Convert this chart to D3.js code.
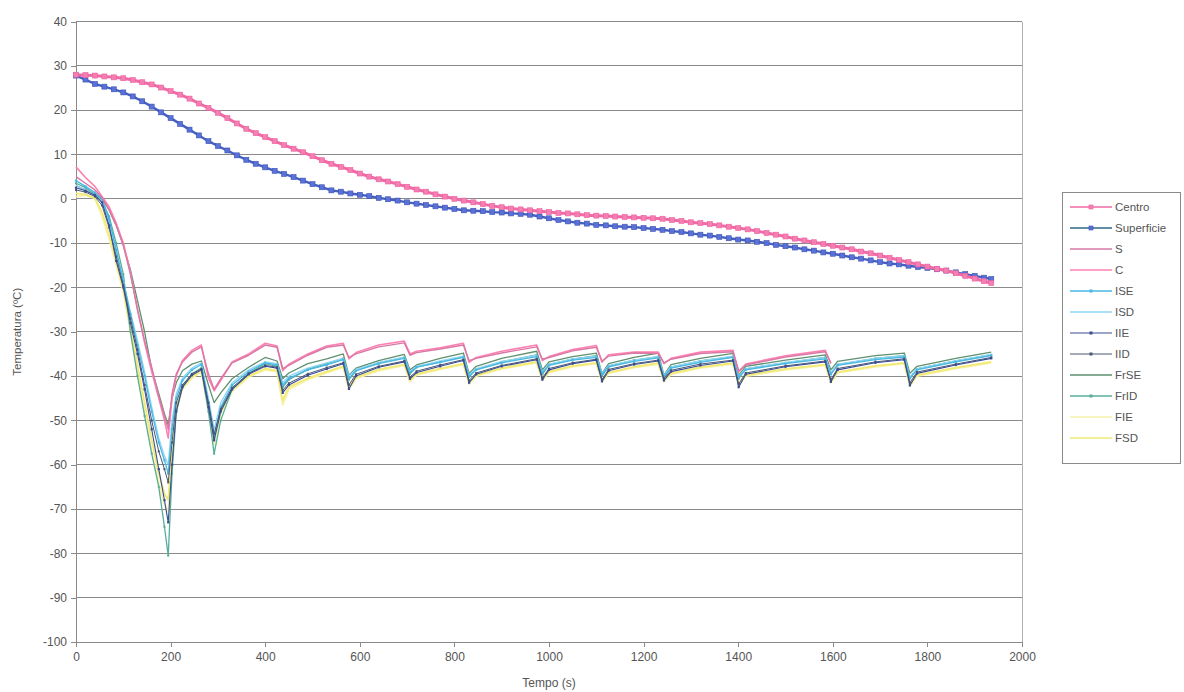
<!DOCTYPE html>
<html>
<head>
<meta charset="utf-8">
<script src="https://cdn.jsdelivr.net/npm/d3@7"></script>
<style>
  body { margin: 0; background: #fff; }
  text { font-family: "Liberation Sans", Arial, sans-serif; }
</style>
</head>
<body>
<svg id="chart" width="1184" height="692"></svg>
<script>
// ---- axis ticks ----
const xTicks = [0, 200, 400, 600, 800, 1000, 1200, 1400, 1600, 1800, 2000];
const yTicks = [40, 30, 20, 10, 0, -10, -20, -30, -40, -50, -60, -70, -80, -90, -100];

// ---- core sensors (Centro / Superficie), readings every 20 s, last at 1935 s ----
const timeTop = d3.range(0, 1921, 20).concat([1935]);
const centro = [
  28.0, 27.9, 27.8, 27.6, 27.4, 27.2, 26.8, 26.3, 25.8, 25.1,
  24.3, 23.5, 22.6, 21.5, 20.5, 19.4, 18.2, 17.0, 15.8, 14.8,
  13.9, 13.0, 12.1, 11.3, 10.5, 9.6, 8.7, 7.9, 7.2, 6.5,
  5.7, 5.0, 4.4, 3.9, 3.3, 2.7, 2.1, 1.6, 1.0, 0.5,
  0.0, -0.4, -0.8, -1.2, -1.6, -1.9, -2.2, -2.4, -2.6, -2.8,
  -3.0, -3.2, -3.3, -3.5, -3.7, -3.8, -3.9, -4.0, -4.1, -4.2,
  -4.3, -4.4, -4.5, -4.8, -5.0, -5.3, -5.5, -5.7, -6.0, -6.3,
  -6.6, -6.9, -7.3, -7.7, -8.1, -8.5, -9.0, -9.4, -9.8, -10.2,
  -10.6, -11.0, -11.4, -11.9, -12.3, -12.8, -13.3, -13.8, -14.3, -14.8,
  -15.3, -15.8, -16.2, -16.8, -17.4, -18.0, -18.6, -19.0
];
const superficie = [
  27.8, 26.9, 25.9, 25.3, 24.7, 24.0, 23.1, 22.0, 20.8, 19.5,
  18.2, 16.9, 15.6, 14.3, 13.0, 11.9, 10.9, 9.8, 8.8, 7.9,
  7.1, 6.3, 5.6, 4.9, 4.1, 3.3, 2.6, 1.9, 1.6, 1.2,
  0.9, 0.6, 0.2, -0.1, -0.4, -0.8, -1.1, -1.4, -1.7, -2.0,
  -2.3, -2.6, -2.7, -2.8, -3.0, -3.1, -3.3, -3.4, -3.6, -4.0,
  -4.4, -4.8, -5.1, -5.4, -5.6, -5.9, -6.0, -6.2, -6.3, -6.4,
  -6.6, -6.8, -7.0, -7.3, -7.5, -7.8, -8.1, -8.3, -8.6, -8.9,
  -9.2, -9.4, -9.7, -10.0, -10.4, -10.7, -11.0, -11.4, -11.7, -12.1,
  -12.4, -12.8, -13.2, -13.5, -13.9, -14.3, -14.6, -14.8, -15.1, -15.4,
  -15.6, -15.9, -16.2, -16.6, -17.0, -17.4, -17.8, -18.1
];

// ---- chamber sensors, sampled at the times below (s) ----
const timeLow = [
  0, 20, 40, 55, 70, 85, 100, 115, 130, 145,
  160, 175, 187, 195, 203, 212, 225, 245, 265, 280,
  292, 306, 330, 365, 400, 425, 437, 450, 490, 530,
  565, 577, 592, 640, 694, 706, 720, 770, 819, 831,
  846, 900, 974, 986, 1000, 1050, 1100, 1112, 1126, 1180,
  1231, 1243, 1258, 1320, 1389, 1401, 1416, 1500, 1584, 1596,
  1610, 1690, 1751, 1763, 1778, 1860, 1935
];
const sS = [
  5.0, 3.5, 2.0, 0.3, -2.5, -6.0, -10.5, -17.0, -25.0, -32.0,
  -38.0, -44.5, -49.0, -52.0, -44.0, -39.5, -36.8, -34.6, -33.4, -39.5,
  -43.0, -40.6, -37.0, -35.3, -33.0, -33.5, -38.3, -37.6, -35.3, -33.5,
  -33.0, -35.8, -35.0, -33.4, -32.5, -35.3, -34.7, -33.9, -33.0, -36.5,
  -36.0, -34.8, -33.4, -36.2, -35.8, -34.3, -33.5, -36.6, -35.5, -34.8,
  -34.9, -37.0, -36.2, -34.9, -34.5, -38.8, -37.5, -35.7, -34.5, -37.0,
  null, null, null, null, null, null, null
];
const sC = [
  7.2, 4.8, 2.8, 0.5, -1.8, -5.5, -10.0, -16.5, -25.0, -32.5,
  -39.0, -45.0, -50.0, -54.0, -45.0, -40.0, -36.5, -34.2, -33.0, -40.5,
  -43.3, -41.0, -36.8, -35.0, -32.6, -33.2, -38.8, -37.3, -35.0, -33.2,
  -32.6, -36.1, -34.7, -33.0, -32.1, -35.0, -34.4, -33.6, -32.6, -36.9,
  -35.8, -34.4, -33.0, -36.5, -35.6, -34.0, -33.1, -36.9, -35.2, -34.6,
  -34.6, -37.2, -36.0, -34.6, -34.2, -39.1, -37.3, -35.4, -34.2, -37.2,
  null, null, null, null, null, null, null
];
const sISE = [
  4.1, 2.8, 1.4, 0.0, -4.5, -11.5, -18.5, -26.0, -33.0, -40.0,
  -48.0, -55.0, -59.0, -62.0, -52.0, -45.0, -41.0, -38.6, -37.4, -46.0,
  -54.0, -47.0, -42.0, -39.0, -37.0, -37.5, -42.0, -40.5, -38.6, -37.5,
  -36.3, -40.5, -38.8, -37.2, -36.0, -39.2, -38.0, -36.9, -35.8, -40.0,
  -38.6, -37.0, -35.6, -39.2, -37.6, -36.4, -35.8, -39.6, -37.9, -36.7,
  -35.9, -40.0, -38.2, -36.9, -35.8, -40.2, -38.6, -37.2, -36.1, -39.6,
  -37.6, -36.3, -35.7, -40.5, -38.6, -36.8, -35.4
];
const sISD = [
  3.0, 2.0, 0.8, -0.5, -5.0, -12.0, -18.5, -25.5, -32.0, -39.0,
  -47.0, -54.0, -58.0, -60.0, -50.0, -44.0, -40.5, -38.2, -37.0, -45.0,
  -52.0, -46.0, -41.5, -38.6, -36.8, -37.2, -41.5, -40.0, -38.2, -37.0,
  -36.0, -40.0, -38.5, -36.9, -35.7, -39.0, -37.8, -36.6, -35.5, -39.8,
  -38.3, -36.7, -35.3, -39.0, -37.3, -36.1, -35.5, -39.4, -37.6, -36.4,
  -35.6, -39.8, -37.9, -36.6, -35.5, -40.0, -38.3, -36.9, -35.8, -39.3,
  -37.3, -36.0, -35.4, -40.2, -38.3, -36.5, -35.1
];
const sIIE = [
  2.5, 1.8, 0.8, -0.8, -6.0, -14.0, -20.0, -28.0, -35.0, -43.0,
  -52.0, -61.0, -68.0, -73.0, -60.0, -48.0, -42.5, -39.8, -38.6, -47.0,
  -54.5, -48.0, -43.0, -39.6, -37.8, -38.2, -43.8, -42.0, -39.8, -38.4,
  -37.2, -42.9, -40.0, -38.0, -36.8, -40.6, -39.2, -37.8, -36.5, -41.5,
  -39.6, -37.8, -36.3, -40.8, -38.6, -37.2, -36.4, -41.2, -38.8, -37.4,
  -36.6, -41.0, -39.0, -37.6, -36.6, -42.5, -39.6, -37.9, -36.8, -41.3,
  -38.6, -37.0, -36.3, -42.1, -39.4, -37.5, -36.0
];
const sIID = [
  2.0, 1.5, 0.5, -1.5, -6.5, -13.0, -19.5, -27.0, -34.0, -42.0,
  -50.0, -57.0, -61.0, -64.0, -55.0, -46.0, -42.0, -39.5, -38.4, -46.0,
  -53.0, -47.5, -42.6, -39.4, -37.6, -38.0, -43.2, -41.6, -39.5, -38.1,
  -37.0, -42.0, -39.6, -37.8, -36.6, -40.2, -38.9, -37.5, -36.3, -41.0,
  -39.3, -37.6, -36.1, -40.4, -38.3, -37.0, -36.2, -40.8, -38.5, -37.2,
  -36.4, -40.6, -38.7, -37.3, -36.4, -41.8, -39.3, -37.7, -36.6, -40.8,
  -38.3, -36.8, -36.1, -41.5, -39.1, -37.3, -35.8
];
const sFrSE = [
  3.0, 2.0, 1.0, 0.0, -2.5, -6.0, -10.5, -16.0, -23.0, -30.0,
  -38.5, -44.0, -48.5, -51.0, -45.0, -41.5, -38.8, -37.3, -36.6, -42.0,
  -46.0, -43.8, -40.6, -38.0, -35.8, -36.6, -40.6, -39.3, -37.2, -36.1,
  -35.0, -39.8, -38.2, -36.5, -35.1, -38.6, -37.5, -36.0, -34.8, -39.4,
  -37.8, -36.0, -34.4, -38.6, -36.8, -35.6, -34.8, -39.4, -37.2, -35.8,
  -34.8, -39.8, -37.4, -36.0, -34.9, -39.8, -37.8, -36.4, -35.2, -38.6,
  -36.7, -35.4, -34.8, -39.4, -37.8, -36.0, -34.6
];
const sFrID = [
  3.5, 2.5, 1.0, -0.5, -4.0, -10.0, -17.0, -30.0, -40.0, -49.0,
  -57.5, -65.0, -74.0, -80.5, -62.0, -48.0, -42.5, -39.5, -38.2, -48.0,
  -57.5, -50.0, -43.0, -39.4, -37.2, -37.8, -42.5, -40.8, -38.5, -37.2,
  -36.0, -40.8, -38.8, -37.0, -35.8, -39.5, -38.0, -36.8, -35.6, -40.2,
  -38.5, -36.8, -35.2, -39.6, -37.4, -36.2, -35.4, -40.0, -37.8, -36.4,
  -35.6, -40.4, -38.0, -36.6, -35.6, -40.6, -38.4, -37.0, -35.8, -39.4,
  -37.4, -36.0, -35.4, -40.5, -38.4, -36.6, -35.2
];
const sFIE = [
  0.5, 0.8, 0.2, -4.0, -9.0, -15.0, -21.0, -30.0, -39.5, -48.0,
  -57.0, -64.0, -69.0, -70.5, -58.0, -48.0, -43.0, -40.5, -39.0, -48.0,
  -55.5, -48.5, -43.5, -40.2, -38.6, -39.0, -46.5, -43.0, -40.8, -39.3,
  -38.0, -43.0, -40.6, -38.8, -37.6, -41.2, -39.8, -38.5, -37.4, -41.8,
  -40.0, -38.4, -37.0, -41.0, -39.2, -37.9, -37.2, -41.3, -39.4, -38.1,
  -37.3, -41.2, -39.6, -38.2, -37.3, -42.0, -40.0, -38.6, -37.6, -41.5,
  -39.3, -37.9, -37.2, -42.3, -40.0, -38.3, -37.0
];
const sFSD = [
  1.2, 1.0, 0.0, -3.0, -8.0, -14.0, -20.5, -29.0, -37.5, -46.0,
  -54.5, -62.0, -66.5, -68.0, -57.0, -47.0, -42.5, -40.2, -38.8, -47.0,
  -54.5, -48.0, -43.0, -40.0, -38.3, -38.8, -45.5, -42.5, -40.5, -39.0,
  -37.8, -42.5, -40.3, -38.5, -37.4, -41.0, -39.5, -38.3, -37.2, -41.5,
  -39.8, -38.2, -36.8, -40.8, -39.0, -37.7, -37.0, -41.0, -39.2, -37.9,
  -37.1, -40.9, -39.4, -38.0, -37.1, -41.7, -39.8, -38.4, -37.4, -41.3,
  -39.1, -37.7, -37.0, -42.0, -39.8, -38.1, -36.8
];

// series, in legend order
const series = [
  { name: "Centro",     t: timeTop, v: centro,     color: "#f06aa6", width: 3.0, marker: { size: 5,   fill: "#f47fb2", stroke: "#ee5e9e" } },
  { name: "Superficie", t: timeTop, v: superficie, color: "#4660c0", width: 2.4, marker: { size: 5,   fill: "#5a72d8", stroke: "#3c52b4" }, legendLine: "#2f6a86" },
  { name: "S",          t: timeLow, v: sS,    color: "#d878a6", width: 1.4 },
  { name: "C",          t: timeLow, v: sC,    color: "#ff80b0", width: 1.6 },
  { name: "ISE",        t: timeLow, v: sISE,  color: "#48b8e4", width: 1.3, marker: { size: 2.2, fill: "#48b8e4", stroke: "none" } },
  { name: "ISD",        t: timeLow, v: sISD,  color: "#8ed6f4", width: 1.3 },
  { name: "IIE",        t: timeLow, v: sIIE,  color: "#3a4c92", width: 1.1, marker: { size: 2.2, fill: "#3a4c92", stroke: "none" } },
  { name: "IID",        t: timeLow, v: sIID,  color: "#4a5672", width: 1.0, marker: { size: 2.0, fill: "#4a5672", stroke: "none" } },
  { name: "FrSE",       t: timeLow, v: sFrSE, color: "#5f9070", width: 1.3 },
  { name: "FrID",       t: timeLow, v: sFrID, color: "#58ad9a", width: 1.3, marker: { size: 2.0, fill: "#58ad9a", stroke: "none" } },
  { name: "FIE",        t: timeLow, v: sFIE,  color: "#f6f2aa", width: 1.8 },
  { name: "FSD",        t: timeLow, v: sFSD,  color: "#f2ea74", width: 1.8 }
];
const drawOrder = ["FIE", "FSD", "FrSE", "FrID", "ISD", "ISE", "IID", "IIE", "C", "S", "Superficie", "Centro"];

// ---- layout ----
const svg = d3.select("#chart");
const plot = { left: 76, right: 1022, top: 21.5, bottom: 642 };
const x = d3.scaleLinear().domain([0, 2000]).range([plot.left, plot.right]);
const y = d3.scaleLinear().domain([-100, 40]).range([plot.bottom, plot.top]);
const axisColor = "#8a8a8a";
const textColor = "#555";

// horizontal gridlines
svg.append("g").selectAll("line").data(yTicks).join("line")
  .attr("x1", plot.left).attr("x2", plot.right)
  .attr("y1", d => y(d)).attr("y2", d => y(d))
  .attr("stroke", axisColor).attr("stroke-width", 1).attr("shape-rendering", "crispEdges");

// right edge of plot area
svg.append("line")
  .attr("x1", plot.right).attr("x2", plot.right)
  .attr("y1", plot.top).attr("y2", plot.bottom)
  .attr("stroke", "#b0b0b0").attr("shape-rendering", "crispEdges");

// axes
const gy = svg.append("g").attr("transform", `translate(${plot.left},0)`)
  .call(d3.axisLeft(y).tickValues(yTicks).tickSize(5).tickPadding(4).tickFormat(d => String(d)));
const gx = svg.append("g").attr("transform", `translate(0,${plot.bottom})`)
  .call(d3.axisBottom(x).tickValues(xTicks).tickSize(5).tickPadding(5).tickFormat(d => String(d)));
[gx, gy].forEach(g => {
  g.selectAll("path, line").attr("stroke", axisColor).attr("shape-rendering", "crispEdges");
  g.selectAll("text").attr("fill", textColor).style("font-size", "12px");
});

// axis titles
svg.append("text").attr("x", (plot.left + plot.right) / 2).attr("y", 687)
  .attr("text-anchor", "middle").attr("fill", textColor).style("font-size", "12px").text("Tempo (s)");
svg.append("text").attr("transform", `translate(21,${y(-30)}) rotate(-90)`)
  .attr("text-anchor", "middle").attr("fill", textColor).style("font-size", "11.5px").text("Temperatura (ºC)");

// data lines
const lineGen = s => d3.line()
  .defined((d, i) => s.v[i] !== null)
  .x((d, i) => x(s.t[i]))
  .y((d, i) => y(s.v[i]));

const gLines = svg.append("g");
drawOrder.forEach(name => {
  const s = series.find(d => d.name === name);
  gLines.append("path")
    .datum(s.v)
    .attr("d", lineGen(s))
    .attr("fill", "none")
    .attr("stroke", s.color)
    .attr("stroke-width", s.width)
    .attr("stroke-linejoin", "round");
  if (s.marker) {
    const pts = s.v.map((v, i) => ({ t: s.t[i], v })).filter(p => p.v !== null);
    gLines.append("g").selectAll("rect").data(pts).join("rect")
      .attr("x", p => x(p.t) - s.marker.size / 2)
      .attr("y", p => y(p.v) - s.marker.size / 2)
      .attr("width", s.marker.size).attr("height", s.marker.size)
      .attr("fill", s.marker.fill)
      .attr("stroke", s.marker.stroke).attr("stroke-width", 0.6);
  }
});

// legend
const legend = svg.append("g");
legend.append("rect")
  .attr("x", 1062.5).attr("y", 192.5).attr("width", 118).attr("height", 271)
  .attr("fill", "#fff").attr("stroke", "#8a8a8a");
const rowY = d3.scalePoint().domain(series.map(s => s.name)).range([207, 438]);
series.forEach(s => {
  const yy = rowY(s.name);
  legend.append("line")
    .attr("x1", 1070).attr("x2", 1112).attr("y1", yy).attr("y2", yy)
    .attr("stroke", s.legendLine || s.color).attr("stroke-width", Math.min(s.width, 1.6));
  if (s.marker) {
    const ms = Math.max(Math.min(s.marker.size, 4), 3);
    legend.append("rect")
      .attr("x", 1091 - ms / 2).attr("y", yy - ms / 2).attr("width", ms).attr("height", ms)
      .attr("fill", s.marker.fill).attr("stroke", s.marker.stroke).attr("stroke-width", 0.6);
  }
  legend.append("text").attr("x", 1115).attr("y", yy + 4)
    .attr("fill", textColor).style("font-size", "11.5px").text(s.name);
});
</script>
</body>
</html>
